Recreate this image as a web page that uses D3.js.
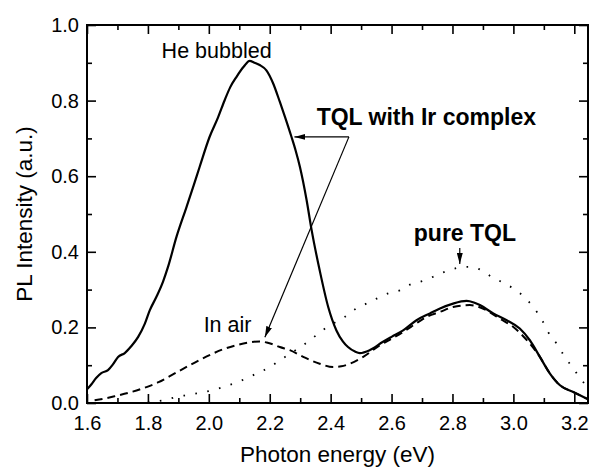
<!DOCTYPE html>
<html>
<head>
<meta charset="utf-8">
<script src="https://cdn.jsdelivr.net/npm/d3@7"></script>
<style>
  body { margin: 0; background: #fff; }
  text { font-family: "Liberation Sans", Arial, sans-serif; fill: #000; }
</style>
</head>
<body>
<div id="chart"></div>
<script>
// He bubbled (solid), photon energy in eV vs PL intensity
const heBubbled = [
  [1.600, 0.036], [1.614, 0.049], [1.630, 0.066], [1.647, 0.079], [1.669, 0.087],
  [1.685, 0.102], [1.702, 0.122], [1.724, 0.132], [1.745, 0.150], [1.768, 0.175],
  [1.790, 0.210], [1.806, 0.245], [1.828, 0.281], [1.850, 0.322], [1.866, 0.360],
  [1.894, 0.440], [1.927, 0.519], [1.950, 0.575], [1.970, 0.625], [2.003, 0.705],
  [2.030, 0.755], [2.052, 0.801], [2.070, 0.835], [2.091, 0.863], [2.115, 0.890],
  [2.134, 0.905], [2.150, 0.900], [2.167, 0.894], [2.189, 0.880], [2.211, 0.846],
  [2.233, 0.797], [2.250, 0.757], [2.271, 0.705], [2.285, 0.668], [2.299, 0.625],
  [2.321, 0.537], [2.337, 0.460], [2.364, 0.351], [2.392, 0.254], [2.419, 0.192],
  [2.440, 0.163], [2.457, 0.148], [2.480, 0.136], [2.496, 0.132], [2.529, 0.140],
  [2.572, 0.162], [2.600, 0.175], [2.638, 0.192], [2.682, 0.219], [2.726, 0.237],
  [2.759, 0.250], [2.802, 0.263], [2.846, 0.270], [2.870, 0.266], [2.890, 0.259],
  [2.934, 0.237], [2.978, 0.219], [3.021, 0.197], [3.054, 0.166], [3.087, 0.122],
  [3.120, 0.078], [3.153, 0.047], [3.197, 0.029], [3.245, 0.010]
]

// In air (dashed)
const inAir = [
  [1.625, 0.007], [1.660, 0.012], [1.697, 0.019], [1.750, 0.030], [1.795, 0.042],
  [1.835, 0.055], [1.872, 0.071], [1.937, 0.100], [1.975, 0.116], [2.014, 0.131],
  [2.050, 0.143], [2.091, 0.153], [2.130, 0.160], [2.167, 0.163], [2.190, 0.160],
  [2.211, 0.155], [2.233, 0.148], [2.266, 0.140], [2.310, 0.122], [2.364, 0.104],
  [2.408, 0.095], [2.435, 0.097], [2.463, 0.104], [2.507, 0.122], [2.562, 0.153],
  [2.600, 0.170], [2.638, 0.188], [2.680, 0.210], [2.715, 0.228], [2.759, 0.241],
  [2.802, 0.254], [2.857, 0.259], [2.912, 0.245], [2.956, 0.223], [3.000, 0.201],
  [3.040, 0.170], [3.087, 0.122], [3.120, 0.078], [3.153, 0.047], [3.197, 0.029],
  [3.245, 0.010]
]

// pure TQL (dotted)
const pureTQL = [
  [1.760, 0.000], [1.850, 0.007], [1.894, 0.016], [1.937, 0.022], [1.975, 0.028],
  [2.014, 0.034], [2.050, 0.043], [2.080, 0.051], [2.120, 0.064], [2.157, 0.078],
  [2.200, 0.095], [2.233, 0.113], [2.270, 0.132], [2.310, 0.153], [2.343, 0.173],
  [2.376, 0.194], [2.410, 0.211], [2.447, 0.228], [2.480, 0.248], [2.518, 0.263],
  [2.551, 0.276], [2.589, 0.290], [2.627, 0.298], [2.660, 0.313], [2.698, 0.322],
  [2.737, 0.334], [2.775, 0.347], [2.814, 0.357], [2.840, 0.360], [2.857, 0.360],
  [2.896, 0.351], [2.928, 0.334], [2.967, 0.318], [3.000, 0.303], [3.032, 0.283],
  [3.065, 0.254], [3.093, 0.221], [3.114, 0.188], [3.142, 0.157], [3.169, 0.122],
  [3.197, 0.091], [3.220, 0.065], [3.245, 0.040]
]

const xTicks = [1.6, 1.8, 2.0, 2.2, 2.4, 2.6, 2.8, 3.0, 3.2]
const xMinor = [1.7, 1.9, 2.1, 2.3, 2.5, 2.7, 2.9, 3.1]
const yTicks = [0.0, 0.2, 0.4, 0.6, 0.8, 1.0]
const yMinor = [0.1, 0.3, 0.5, 0.7, 0.9]

// labels in data coordinates [x, y, text, bold]
const labels = [
  [1.845, 0.913, 'He bubbled', false],
  [2.354, 0.735, 'TQL with Ir complex', true],
  [1.983, 0.188, 'In air', false],
  [2.673, 0.428, 'pure TQL', true]
]
// arrows [from, to]
const arrows = [
  [[2.460, 0.704], [2.281, 0.704]],
  [[2.460, 0.704], [2.184, 0.174]],
  [[2.824, 0.410], [2.824, 0.368]]
]

const width = 590, height = 470
const padding = { left: 87, top: 25, right: 2, bottom: 67 }

const x = d3.scaleLinear().domain([1.6, 3.245]).range([padding.left, width - padding.right])
const y = d3.scaleLinear().domain([0, 1]).range([height - padding.bottom, padding.top])

const svg = d3.select('#chart').append('svg')
  .attr('width', width)
  .attr('height', height)

svg.append('rect')
  .attr('width', width).attr('height', height).attr('fill', '#fff')

const defs = svg.append('defs')
defs.append('marker')
  .attr('id', 'head')
  .attr('viewBox', '0 0 11 6')
  .attr('refX', 11).attr('refY', 3)
  .attr('markerWidth', 11).attr('markerHeight', 6)
  .attr('markerUnits', 'userSpaceOnUse')
  .attr('orient', 'auto')
  .append('path').attr('d', 'M0,0L11,3L0,6Z').attr('fill', '#000')

const line = d3.line()
  .x(d => x(d[0]))
  .y(d => y(d[1]))
  .curve(d3.curveMonotoneX)

svg.append('path').datum(pureTQL)
  .attr('d', line).attr('fill', 'none').attr('stroke', '#000')
  .attr('stroke-width', 1.8).attr('stroke-dasharray', '1.6,10.5')
svg.append('path').datum(inAir)
  .attr('d', line).attr('fill', 'none').attr('stroke', '#000')
  .attr('stroke-width', 2).attr('stroke-dasharray', '8,5')
svg.append('path').datum(heBubbled)
  .attr('d', line).attr('fill', 'none').attr('stroke', '#000')
  .attr('stroke-width', 2.2)

// axes, all ticks pointing inward
const yBottom = y(0), yTop = y(1), xLeft = x(1.6), xRight = x(3.245)
const fmt = d3.format('.1f')

function styleAxis(g) {
  g.select('.domain').remove()
  g.selectAll('.tick line').attr('stroke', '#000').attr('stroke-width', 1.6)
  g.selectAll('text').attr('font-size', 20).attr('fill', '#000')
    .attr('font-family', '"Liberation Sans", Arial, sans-serif')
}

svg.append('g').attr('transform', `translate(0,${yBottom})`)
  .call(d3.axisBottom(x).tickValues(xTicks).tickFormat(fmt).tickSizeInner(-9).tickSizeOuter(0).tickPadding(13))
  .call(styleAxis)
svg.append('g').attr('transform', `translate(0,${yBottom})`)
  .call(d3.axisBottom(x).tickValues(xMinor).tickFormat('').tickSizeInner(-5).tickSizeOuter(0))
  .call(styleAxis)
svg.append('g').attr('transform', `translate(0,${yTop})`)
  .call(d3.axisTop(x).tickValues(xTicks).tickFormat('').tickSizeInner(-9).tickSizeOuter(0))
  .call(styleAxis)
svg.append('g').attr('transform', `translate(0,${yTop})`)
  .call(d3.axisTop(x).tickValues(xMinor).tickFormat('').tickSizeInner(-5).tickSizeOuter(0))
  .call(styleAxis)

svg.append('g').attr('transform', `translate(${xLeft},0)`)
  .call(d3.axisLeft(y).tickValues(yTicks).tickFormat(fmt).tickSizeInner(-9).tickSizeOuter(0).tickPadding(8))
  .call(styleAxis)
svg.append('g').attr('transform', `translate(${xLeft},0)`)
  .call(d3.axisLeft(y).tickValues(yMinor).tickFormat('').tickSizeInner(-5).tickSizeOuter(0))
  .call(styleAxis)
svg.append('g').attr('transform', `translate(${xRight},0)`)
  .call(d3.axisRight(y).tickValues(yTicks).tickFormat('').tickSizeInner(-9).tickSizeOuter(0))
  .call(styleAxis)
svg.append('g').attr('transform', `translate(${xRight},0)`)
  .call(d3.axisRight(y).tickValues(yMinor).tickFormat('').tickSizeInner(-5).tickSizeOuter(0))
  .call(styleAxis)

svg.append('rect')
  .attr('x', xLeft).attr('y', yTop)
  .attr('width', xRight - xLeft).attr('height', yBottom - yTop)
  .attr('fill', 'none').attr('stroke', '#000').attr('stroke-width', 2)

// axis titles
svg.append('text')
  .attr('x', (xLeft + xRight) / 2).attr('y', 462)
  .attr('text-anchor', 'middle').attr('font-size', 22.5)
  .text('Photon energy (eV)')
svg.append('text')
  .attr('transform', `translate(32,${(yTop + yBottom) / 2}) rotate(-90)`)
  .attr('text-anchor', 'middle').attr('font-size', 22.5)
  .text('PL Intensity (a.u.)')

// annotations
svg.selectAll('.label').data(labels).join('text')
  .attr('class', 'label')
  .attr('x', d => x(d[0])).attr('y', d => y(d[1]))
  .attr('font-size', d => d[3] ? 23 : 21.5)
  .attr('font-weight', d => d[3] ? 'bold' : 'normal')
  .text(d => d[2])

svg.selectAll('.arrow').data(arrows).join('line')
  .attr('class', 'arrow')
  .attr('x1', d => x(d[0][0])).attr('y1', d => y(d[0][1]))
  .attr('x2', d => x(d[1][0])).attr('y2', d => y(d[1][1]))
  .attr('stroke', '#000').attr('stroke-width', 1.2)
  .attr('marker-end', 'url(#head)')
</script>
</body>
</html>
